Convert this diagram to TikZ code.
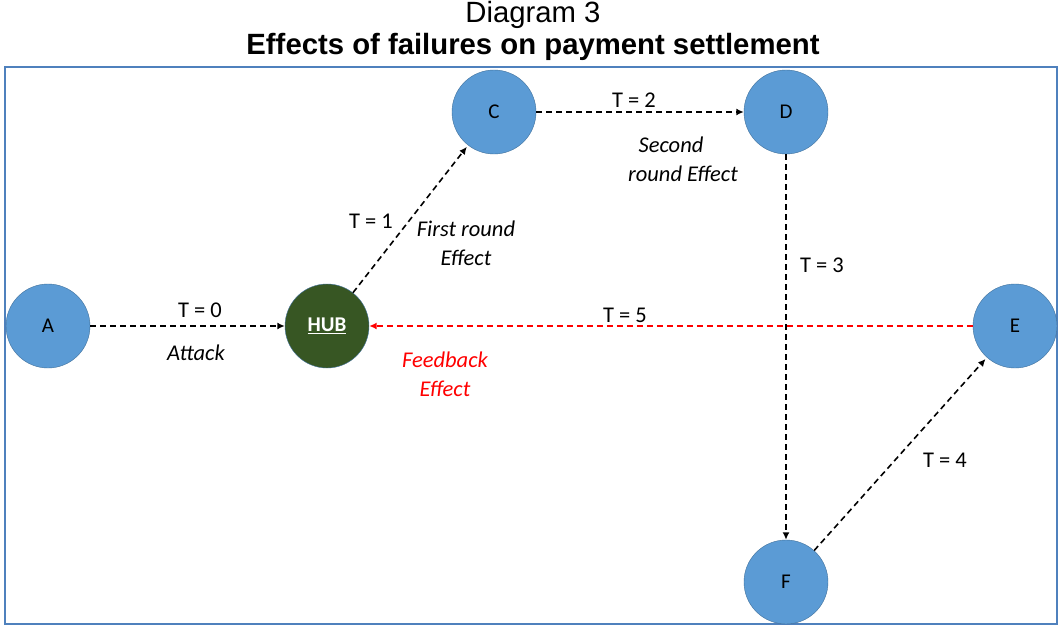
\documentclass[tikz,border=0pt]{standalone}
\usepackage{fontspec}
\setmainfont{Carlito}
\newfontfamily\arialfont{Liberation Sans}
\usetikzlibrary{arrows.meta,calc}
\tikzset{>={Latex[length=7.5pt,width=7pt]}}
\definecolor{nodeblue}{RGB}{91,155,213}
\definecolor{nodeedge}{RGB}{65,113,156}
\definecolor{hubgreen}{RGB}{55,86,35}
\definecolor{framblue}{RGB}{79,129,189}

\tikzset{
  bank/.style={circle,draw=nodeedge,fill=nodeblue,minimum size=84pt,inner sep=0pt,font=\fontsize{21}{24}\selectfont},
  flow/.style={->,line width=1.6pt,dash pattern=on 6pt off 4pt},
  lbl/.style={font=\fontsize{22.5}{29}\selectfont,align=center},
  ilbl/.style={lbl,font=\fontsize{22.5}{29}\selectfont\itshape}
}

\begin{document}
\begin{tikzpicture}[x=1pt,y=-1pt]
    \useasboundingbox (0,0) rectangle (1058,626);
    % title
    \node[font=\arialfont\fontsize{29.3}{31}\selectfont] (ttl) at (533,15) {Diagram 3};
    \node[font=\arialfont\bfseries\fontsize{29.3}{31}\selectfont] (sub) at (533,47) {Effects of failures on payment settlement};
    \draw[framblue,line width=1.8pt] (5,67) rectangle (1057,624);
    % banks
    \node[bank] (A) at (48,326) {A};
    \node[bank,fill=hubgreen,text=white,font=\fontsize{21}{24}\selectfont\bfseries] (HUB) at (327,326) {\underline{HUB}};
    \node[bank] (C) at (494,112) {C};
    \node[bank] (D) at (786,112) {D};
    \node[bank] (E) at (1015,326) {E};
    \node[bank] (F) at (786,582) {F};
    % links
    \draw[flow] (A) -- (HUB);
    \draw[flow,shorten >=2pt] (HUB) -- (C);
    \draw[flow] (C) -- (D);
    \draw[flow] (D) -- (F);
    \draw[flow,shorten >=2pt] (F) -- (E);
    \draw[flow,red] (E) -- (HUB);
    % labels
    \node[lbl] (t0) at (200,310) {T = 0};
    \node[ilbl] (att) at (196,353) {Attack};
    \node[lbl] (t1) at (371,221) {T = 1};
    \node[ilbl] (fst) at (466,243) {First round\\Effect};
    \node[lbl] (t2) at (634,100) {T = 2};
    \node[ilbl] (snd) at (683,159) {Second\hspace*{24pt}\\round Effect};
    \node[lbl] (t3) at (822,265) {T = 3};
    \node[lbl] (t5) at (625,315) {T = 5};
    \node[ilbl,red] (fb) at (445,374) {Feedback\\Effect};
    \node[lbl] (t4) at (945,460) {T = 4};
\end{tikzpicture}
\end{document}
